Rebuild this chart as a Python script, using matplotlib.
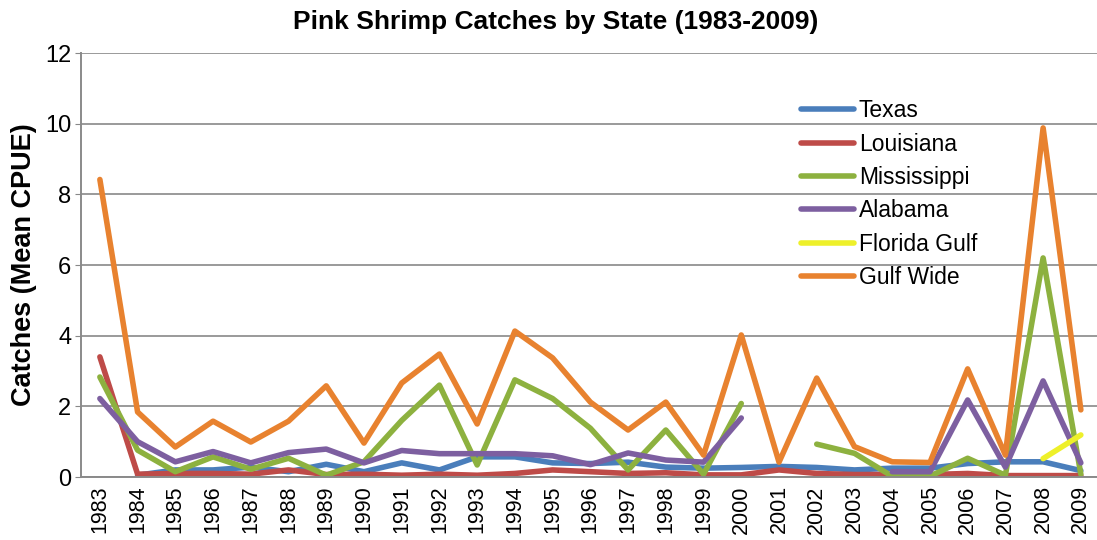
import numpy as np
import matplotlib.pyplot as plt

# Lesewerte aus der Vorlage (nan = keine Daten)
years = [str(y) for y in range(1983, 2010)]
nan = np.nan

texas = [nan, 0.05, 0.2, 0.2, 0.28, 0.15, 0.36, 0.15, 0.4, 0.2, 0.57, 0.57, 0.4, 0.38,
         0.42, 0.28, 0.25, 0.27, 0.3, 0.27, 0.2, 0.25, 0.25, 0.38, 0.43, 0.43, 0.18]
louisiana = [3.4, 0.08, 0.1, 0.1, 0.08, 0.2, 0.07, 0.08, 0.05, 0.08, 0.05, 0.1, 0.2, 0.15,
             0.1, 0.12, 0.06, 0.06, 0.2, 0.1, 0.07, 0.07, 0.07, 0.1, 0.04, 0.04, 0.04]
mississippi = [2.83, 0.76, 0.15, 0.57, 0.22, 0.53, 0.05, 0.43, 1.6, 2.6, 0.34, 2.75, 2.22, 1.38,
               0.2, 1.33, 0.08, 2.08, nan, 0.93, 0.67, 0.02, 0.02, 0.53, 0.05, 6.2, 0.08]
alabama = [2.22, 1.0, 0.43, 0.72, 0.4, 0.69, 0.79, 0.4, 0.75, 0.66, 0.66, 0.66, 0.6, 0.35,
           0.68, 0.48, 0.42, 1.67, nan, nan, nan, 0.15, 0.15, 2.18, 0.28, 2.72, 0.4]
florida_gulf = [nan] * 25 + [0.52, 1.19]
gulf_wide = [8.42, 1.84, 0.85, 1.58, 0.99, 1.58, 2.58, 0.96, 2.66, 3.48, 1.5, 4.13, 3.37, 2.12,
             1.33, 2.12, 0.62, 4.02, 0.42, 2.8, 0.86, 0.43, 0.41, 3.06, 0.62, 9.88, 1.9]

series = [("Texas", texas, "#4a7ebb"),
          ("Louisiana", louisiana, "#be4b48"),
          ("Mississippi", mississippi, "#8db13f"),
          ("Alabama", alabama, "#7d5fa0"),
          ("Florida Gulf", florida_gulf, "#eef02a"),
          ("Gulf Wide", gulf_wide, "#e8822f")]

plt.rcParams['font.family'] = ['Liberation Sans', 'DejaVu Sans']

fig = plt.figure(figsize=(10.97, 5.4), dpi=100)
ax = fig.add_axes([81 / 1097, 1 - 477 / 540, 1016 / 1097, 424 / 540])

x = np.arange(len(years))
for name, vals, col in series:
    ax.plot(x, vals, color=col, lw=4, label=name, solid_capstyle='round')

ax.set_xlim(-0.5, -0.5 + 1016 / 37.73)
ax.set_ylim(0, 12)
ax.set_yticks(range(0, 13, 2))
ax.set_xticks(x)
ax.set_xticklabels(years, rotation=90, fontsize=15.5)
ax.tick_params(axis='y', labelsize=17, length=4, color='#888888', pad=3)
ax.tick_params(axis='x', length=0, pad=6)
ax.grid(axis='y', color='#9a9a9a', lw=1.4)
ax.set_axisbelow(True)
for s in ['top', 'right']:
    ax.spines[s].set_visible(False)
for s in ['left', 'bottom']:
    ax.spines[s].set_color('#8a8a8a')
    ax.spines[s].set_linewidth(1.4)

ax.set_ylabel('Catches (Mean CPUE)', fontsize=19.5, fontweight='bold')
ax.yaxis.set_label_coords(-44 / 1016, 0.5)
fig.text(0.507, 1 - 22 / 540, 'Pink Shrimp Catches by State (1983-2009)', ha='center', va='center',
         fontsize=19, fontweight='bold')

ax.legend(loc='upper left', bbox_to_anchor=(790 / 1097, 1 - 88 / 540),
          bbox_transform=fig.transFigure, frameon=False, fontsize=16.5,
          handlelength=2.3, handletextpad=0.2, labelspacing=0.45, borderpad=0)

fig.savefig('out.png', dpi=100)
